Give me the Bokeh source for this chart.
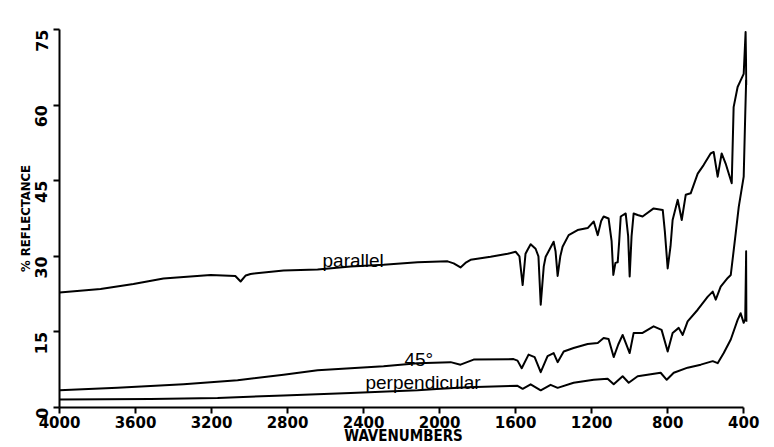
import math
from bokeh.plotting import figure
from bokeh.models import Range1d, FixedTicker, Label
from bokeh.embed import file_html
from bokeh.resources import INLINE

# ---- data (wavenumber, % reflectance) ----
par_wn = [4000, 3784, 3611, 3453, 3205, 3075, 3047, 3020, 2995, 2821, 2642, 2468, 2295, 2116,
          1958, 1926, 1890, 1860, 1837, 1732, 1642, 1600, 1580, 1563, 1548, 1537, 1521, 1495,
          1480, 1468, 1452, 1442, 1400, 1390, 1379, 1365, 1353, 1321, 1274, 1221, 1189, 1168,
          1150, 1137, 1111, 1095, 1086, 1075, 1063, 1055, 1047, 1021, 1008, 1000, 990, 979,
          958, 932, 874, 826, 815, 800, 785, 774, 747, 726, 705, 679, 642, 611, 574, 558, 537,
          516, 495, 463, 453, 432, 416, 400, 390, 386]
par_val = [22.8, 23.5, 24.5, 25.6, 26.3, 26.1, 25.0, 26.2, 26.5, 27.2, 27.4, 28.0, 28.3, 28.8,
           29.0, 28.6, 27.8, 28.8, 29.3, 29.9, 30.5, 30.9, 30.0, 24.3, 30.5, 31.3, 32.4, 31.5,
           30.0, 20.4, 28.0, 29.9, 32.9, 31.0, 26.1, 30.0, 31.9, 34.2, 35.2, 35.6, 36.9, 34.2,
           37.0, 37.9, 37.5, 33.0, 26.3, 28.7, 28.8, 33.0, 37.9, 38.5, 34.0, 26.0, 34.0, 38.5,
           38.2, 37.9, 39.5, 39.2, 35.0, 27.6, 32.0, 37.2, 41.2, 37.2, 42.2, 42.5, 46.4, 48.1,
           50.4, 50.7, 45.8, 50.4, 48.4, 44.5, 59.6, 63.6, 64.9, 66.2, 74.5, 64.0]

deg45_wn = [4000, 3695, 3347, 3063, 2821, 2642, 2468, 2295, 2116, 1942, 1890, 1821, 1611, 1590,
            1568, 1532, 1500, 1468, 1432, 1400, 1379, 1347, 1295, 1221, 1168, 1137, 1111, 1084,
            1060, 1037, 1000, 979, 932, 874, 832, 800, 774, 742, 721, 695, 642, 589, 563, 547,
            521, 484, 468, 442, 426, 400, 392, 387]
deg45_val = [3.4, 3.9, 4.6, 5.4, 6.5, 7.4, 7.8, 8.2, 8.8, 9.0, 8.5, 9.5, 9.6, 9.3,
             7.8, 10.5, 10.0, 7.0, 10.2, 10.8, 9.0, 11.1, 11.8, 12.6, 12.8, 13.8, 13.6, 10.0,
             12.5, 14.4, 10.8, 14.8, 14.8, 16.1, 15.4, 11.1, 14.8, 15.8, 14.4, 17.1, 19.4, 22.0,
             23.0, 21.4, 24.0, 25.7, 26.3, 34.6, 39.8, 45.8, 58.0, 65.0]

perp_wn = [4000, 3521, 3168, 2821, 2468, 2116, 1995, 1853, 1590, 1563, 1521, 1468, 1416, 1379,
           1295, 1189, 1116, 1084, 1037, 1005, 958, 837, 805, 768, 695, 626, 563, 537, 505, 468,
           432, 416, 400, 392, 387, 384]
perp_val = [1.6, 1.7, 1.9, 2.4, 2.9, 3.4, 3.7, 4.0, 4.3, 3.7, 4.6, 3.4, 4.5, 3.9,
            4.9, 5.5, 5.7, 4.6, 6.2, 4.9, 6.2, 6.9, 5.5, 6.9, 7.9, 8.5, 9.2, 8.8, 10.8, 13.5,
            17.4, 18.7, 16.8, 17.5, 31.0, 17.0]

x_ticks = [4000, 3600, 3200, 2800, 2400, 2000, 1600, 1200, 800, 400]
y_ticks = [0, 15, 30, 45, 60, 75]

x_title = "WAVENUMBERS"
y_title = "% REFLECTANCE"
curve_labels = ["parallel", "45°", "perpendicular"]
label_pos = [(2616, 29.1), (2185, 9.5), (2390, 4.95)]

# ---- figure ----
p = figure(width=774, height=447, output_backend="svg", toolbar_location=None,
           x_range=Range1d(4000, 380), y_range=Range1d(0, 75),
           min_border_left=59, min_border_right=27, min_border_top=29, min_border_bottom=39)
p.background_fill_color = "white"
p.border_fill_color = "white"
p.outline_line_color = None
p.grid.visible = False

for wn, val in [(par_wn, par_val), (deg45_wn, deg45_val), (perp_wn, perp_val)]:
    p.line(wn, val, line_color="black", line_width=2, line_join="round")

for txt, (lx, ly) in zip(curve_labels, label_pos):
    p.add_layout(Label(x=lx, y=ly, text=txt, text_font="Liberation Sans",
                       text_font_size="19px", text_color="black",
                       text_baseline="alphabetic", text_align="left"))

xa = p.xaxis[0]
xa.ticker = FixedTicker(ticks=x_ticks)
xa.bounds = (400, 4000)
xa.major_label_text_font = "DejaVu Sans"
xa.major_label_text_font_style = "bold"
xa.major_label_text_font_size = "15px"
xa.major_label_standoff = 2
xa.axis_label = x_title
xa.axis_label_text_font = "DejaVu Sans Condensed"
xa.axis_label_text_font_style = "bold"
xa.axis_label_text_font_size = "15px"
xa.axis_label_standoff = -4

ya = p.yaxis[0]
ya.ticker = FixedTicker(ticks=y_ticks)
ya.bounds = (0, 75)
ya.major_label_text_font = "DejaVu Sans"
ya.major_label_text_font_style = "bold"
ya.major_label_text_font_size = "16px"
ya.major_label_orientation = math.pi / 2
ya.major_label_standoff = 12
ya.axis_label = y_title
ya.axis_label_text_font = "DejaVu Sans Condensed"
ya.axis_label_text_font_style = "bold"
ya.axis_label_text_font_size = "13px"
ya.axis_label_standoff = -6

for ax in (xa, ya):
    ax.axis_line_color = "black"
    ax.axis_line_width = 2
    ax.major_tick_line_color = "black"
    ax.major_tick_line_width = 2
    ax.major_tick_in = 0
    ax.major_tick_out = 6
    ax.minor_tick_line_color = None
    ax.major_label_text_color = "black"
    ax.axis_label_text_color = "black"

open("out.html", "w").write(file_html(p, INLINE))
